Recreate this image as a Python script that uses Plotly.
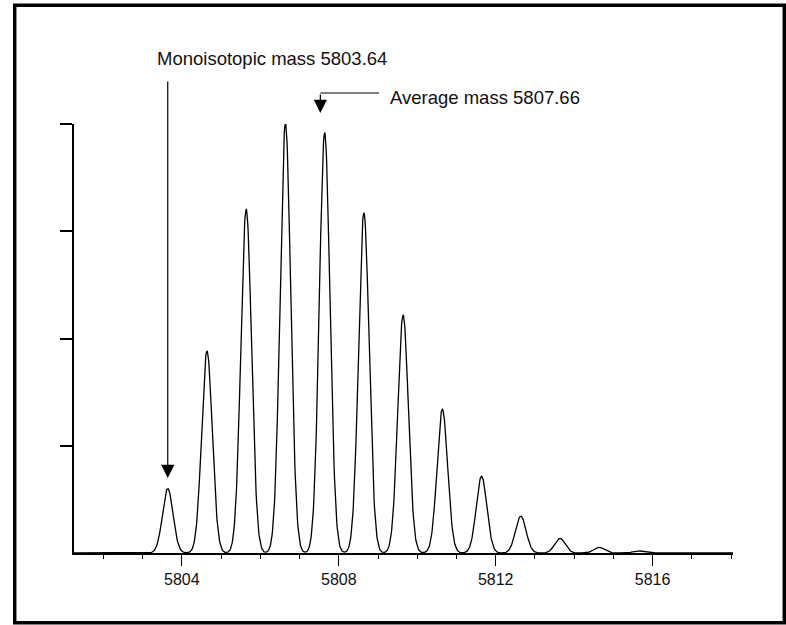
import numpy as np
import plotly.graph_objects as go

# ---- data ----
peak_mz = [5803.64, 5804.64, 5805.64, 5806.64, 5807.64, 5808.64, 5809.64,
           5810.64, 5811.64, 5812.64, 5813.64, 5814.64, 5815.64]
peak_height = [15.0, 47.1, 80.2, 100.2, 98.0, 79.3, 55.5,
               33.5, 17.9, 8.6, 3.4, 1.3, 0.5]
x_tick_vals = [5804, 5808, 5812, 5816]
x_tick_text = ["5804", "5808", "5812", "5816"]
y_tick_vals = [25, 50, 75, 100]
mono_label = "Monoisotopic mass 5803.64"
avg_label = "Average mass 5807.66"
mono_mass = 5803.64
avg_arrow_mass = 5807.53

X_RANGE = [5801.25, 5818.05]

# ---- profile drawn from the peak list (peak shape is a style) ----
sigma = 0.135
xs = np.arange(X_RANGE[0], X_RANGE[1] + 0.005, 0.01)
ys = np.zeros_like(xs)
for c, h in zip(peak_mz, peak_height):
    ys += h * np.exp(-((xs - c) ** 2) / (2 * sigma ** 2))

fig = go.Figure()
fig.add_trace(go.Scatter(x=xs, y=ys, mode="lines",
                         line=dict(color="black", width=1.3),
                         cliponaxis=False, hoverinfo="skip", showlegend=False))

W, H = 786, 625
L, R, T, B = 74, 53, 124, 72
pw, ph = W - L - R, H - T - B

def pxx(px):
    return (px - L) / pw

def pxy(py):
    return (H - B - py) / ph

xpx_per = pw / (X_RANGE[1] - X_RANGE[0])
def mz2px(m):
    return L + (m - X_RANGE[0]) * xpx_per

FONT = "Liberation Sans"

# border
fig.add_shape(type="rect", xref="paper", yref="paper",
              x0=pxx(14.7), y0=pxy(622.8), x1=pxx(784.3), y1=pxy(5.3),
              line=dict(color="black", width=3.5), layer="above")

# monoisotopic arrow
mx = pxx(mz2px(mono_mass))
fig.add_annotation(x=mx, y=pxy(478), xref="paper", yref="paper",
                   ax=0, ay=-(478 - 80), text="", showarrow=True,
                   arrowhead=2, arrowsize=2.2, arrowwidth=1.2, arrowcolor="black")
fig.add_annotation(x=pxx(155), y=pxy(58), xref="paper", yref="paper",
                   text=mono_label, showarrow=False, xanchor="left", yanchor="middle",
                   font=dict(family=FONT, size=18.5, color="#111"))

# average mass arrow (elbow)
ax_px = mz2px(avg_arrow_mass)
fig.add_shape(type="line", xref="paper", yref="paper",
              x0=pxx(ax_px), x1=pxx(379), y0=pxy(93), y1=pxy(93),
              line=dict(color="black", width=1.2))
fig.add_annotation(x=pxx(ax_px), y=pxy(113), xref="paper", yref="paper",
                   ax=0, ay=-(113 - 93), text="", showarrow=True,
                   arrowhead=2, arrowsize=2.2, arrowwidth=1.2, arrowcolor="black")
fig.add_annotation(x=pxx(388), y=pxy(97), xref="paper", yref="paper",
                   text=avg_label, showarrow=False, xanchor="left", yanchor="middle",
                   font=dict(family=FONT, size=18.5, color="#111"))

fig.update_layout(
    width=W, height=H,
    margin=dict(l=L, r=R, t=T, b=B, pad=0),
    paper_bgcolor="white", plot_bgcolor="white",
    showlegend=False,
    xaxis=dict(range=X_RANGE, showgrid=False, zeroline=False,
               showline=True, linecolor="black", linewidth=1.5,
               tickvals=x_tick_vals, ticktext=x_tick_text,
               ticks="outside", ticklen=11, tickwidth=1.3, tickcolor="black",
               tickfont=dict(family=FONT, size=16, color="#111"),
               minor=dict(dtick=1, tick0=5804, ticks="outside", ticklen=4,
                          tickwidth=1.3, tickcolor="black", showgrid=False)),
    yaxis=dict(range=[0, 100], showgrid=False, zeroline=False,
               showline=True, linecolor="black", linewidth=1.5,
               tickvals=y_tick_vals, showticklabels=False,
               ticks="outside", ticklen=12, tickwidth=1.5, tickcolor="black"),
)

fig.write_html("out.html", config={"displayModeBar": False})

# remove the default page margin so the figure sits at the window origin
with open("out.html", "r", encoding="utf-8") as f:
    html = f.read()
html = html.replace("<head>", "<head><style>html,body{margin:0;padding:0;overflow:hidden;}</style>", 1)
with open("out.html", "w", encoding="utf-8") as f:
    f.write(html)
